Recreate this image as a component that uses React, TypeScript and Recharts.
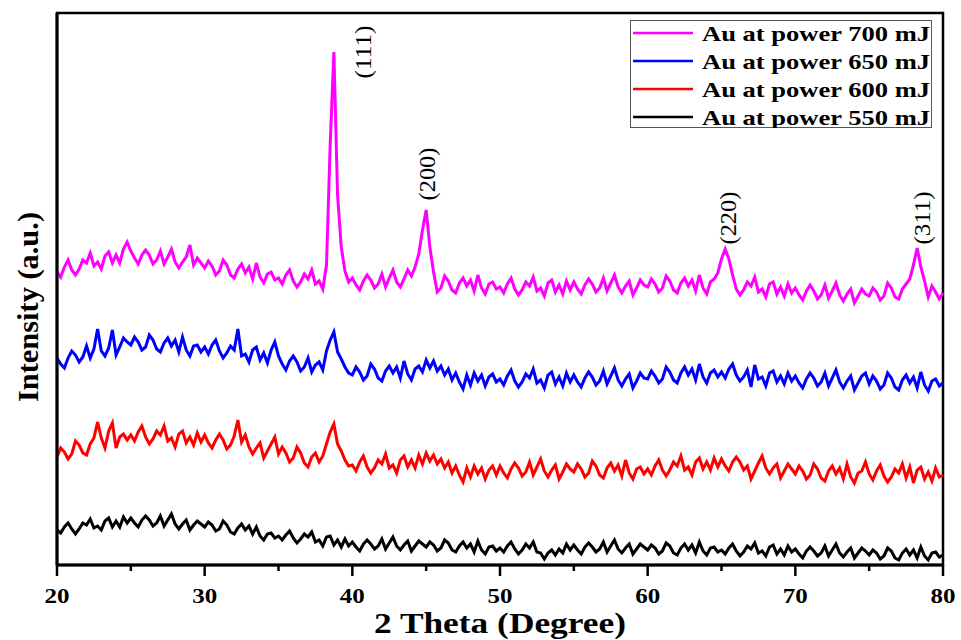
import { LineChart, Line, XAxis, YAxis, ReferenceArea, ReferenceDot, Legend } from 'recharts';

// scan grid: 20° to 80° in 0.25° steps (241 points)
const scanStart = 20;
const scanStep = 0.25;

const xTicks = [20, 25, 30, 35, 40, 45, 50, 55, 60, 65, 70, 75, 80];

// intensities (a.u.), curves stacked with offsets as in the figure
const power700 = [
  293, 288, 298, 305, 295, 290, 296, 305, 302, 312, 299, 303, 296, 309, 313, 302, 310, 302, 316, 323,
  314, 307, 301, 310, 315, 310, 301, 305, 314, 301, 308, 316, 303, 297, 303, 308, 320, 300, 307, 302,
  297, 304, 299, 290, 294, 305, 300, 290, 287, 296, 301, 292, 298, 286, 302, 288, 282, 291, 293, 285,
  287, 281, 290, 295, 284, 278, 283, 291, 286, 295, 281, 284, 276, 300, 420, 513, 370, 318, 294, 283,
  287, 280, 275, 284, 290, 285, 277, 281, 291, 278, 287, 295, 283, 278, 286, 295, 289, 298, 311, 335,
  355, 318, 293, 273, 277, 289, 284, 275, 272, 282, 287, 279, 285, 274, 290, 277, 271, 281, 283, 276,
  278, 272, 281, 287, 276, 270, 275, 283, 279, 288, 274, 277, 269, 282, 285, 273, 280, 271, 284, 275,
  283, 276, 271, 280, 286, 281, 273, 277, 287, 274, 282, 290, 278, 272, 279, 284, 270, 277, 285, 280,
  278, 286, 281, 273, 277, 289, 284, 275, 272, 282, 287, 279, 285, 274, 290, 277, 271, 283, 286, 292,
  306, 316, 306, 290, 276, 270, 275, 283, 279, 288, 273, 276, 268, 281, 283, 271, 278, 269, 281, 272,
  277, 270, 265, 274, 280, 274, 266, 270, 280, 267, 274, 282, 270, 264, 271, 276, 262, 269, 276, 271,
  269, 277, 273, 265, 269, 282, 277, 268, 266, 276, 281, 286, 300, 317, 298, 284, 268, 279, 273, 266,
  272,
];

const power650 = [
  207, 201, 197, 207, 214, 210, 203, 208, 219, 207, 216, 236, 214, 209, 217, 235, 210, 218, 227, 223,
  220, 228, 223, 215, 218, 230, 225, 216, 213, 222, 227, 219, 225, 213, 228, 215, 209, 219, 220, 213,
  218, 211, 220, 225, 214, 207, 212, 219, 215, 236, 209, 211, 203, 215, 218, 205, 212, 202, 215, 223,
  209, 201, 195, 204, 209, 203, 194, 198, 207, 193, 200, 203, 195, 214, 225, 233, 213, 206, 198, 192,
  190, 198, 193, 185, 189, 201, 196, 187, 184, 194, 199, 192, 198, 187, 204, 191, 185, 196, 199, 193,
  205, 197, 204, 194, 199, 190, 196, 185, 192, 183, 176, 190, 180, 192, 184, 190, 179, 188, 191, 183,
  186, 180, 189, 195, 184, 178, 183, 191, 187, 196, 182, 185, 177, 190, 193, 181, 188, 179, 192, 183,
  190, 183, 178, 187, 193, 188, 180, 184, 194, 181, 189, 197, 185, 179, 186, 191, 177, 184, 192, 187,
  186, 194, 189, 182, 186, 198, 193, 185, 182, 192, 198, 190, 196, 185, 201, 188, 182, 192, 195, 188,
  193, 187, 196, 201, 190, 184, 188, 195, 178, 200, 186, 188, 179, 192, 194, 183, 189, 181, 192, 184,
  189, 182, 177, 186, 192, 187, 179, 183, 192, 179, 187, 195, 183, 177, 184, 189, 175, 182, 189, 192,
  181, 189, 184, 176, 180, 192, 187, 178, 175, 185, 190, 182, 188, 177, 193, 180, 174, 184, 186, 179,
  182,
];

const power600 = [
  108, 117, 113, 106, 111, 124, 120, 112, 110, 121, 127, 143, 127, 117, 134, 142, 117, 128, 131, 125,
  130, 124, 133, 139, 128, 121, 126, 134, 130, 139, 124, 127, 118, 131, 134, 122, 128, 120, 132, 123,
  130, 122, 117, 125, 131, 125, 116, 120, 129, 145, 123, 130, 118, 111, 117, 122, 107, 114, 121, 128,
  111, 118, 112, 103, 107, 118, 112, 102, 98, 108, 112, 103, 109, 121, 133, 141, 121, 114, 105, 99,
  100, 94, 103, 109, 98, 92, 97, 105, 101, 111, 97, 100, 92, 105, 109, 98, 105, 97, 110, 101,
  112, 104, 110, 101, 106, 97, 103, 92, 99, 90, 83, 97, 88, 99, 91, 97, 86, 95, 99, 90,
  99, 92, 87, 96, 102, 97, 89, 93, 103, 90, 98, 106, 94, 88, 95, 100, 86, 93, 101, 96,
  93, 101, 96, 88, 92, 104, 99, 90, 87, 97, 102, 94, 100, 89, 105, 92, 86, 96, 98, 91,
  96, 90, 99, 105, 95, 89, 95, 103, 99, 109, 95, 98, 90, 103, 107, 96, 103, 95, 107, 98,
  106, 99, 94, 103, 108, 103, 95, 99, 86, 94, 102, 109, 97, 91, 97, 101, 87, 94, 101, 96,
  91, 99, 94, 86, 90, 101, 96, 87, 84, 94, 99, 91, 97, 86, 101, 88, 82, 92, 94, 103,
  91, 85, 94, 100, 89, 83, 88, 96, 92, 101, 87, 98, 82, 95, 98, 86, 93, 84, 97, 88,
  90,
];

const power550 = [
  35, 32, 38, 42, 36, 31, 36, 42, 40, 46, 37, 39, 35, 44, 47, 38, 44, 38, 48, 42,
  47, 42, 38, 45, 49, 45, 39, 42, 49, 39, 45, 51, 41, 36, 41, 45, 35, 40, 44, 41,
  38, 43, 40, 34, 36, 44, 40, 33, 31, 37, 41, 35, 39, 31, 38, 29, 25, 31, 32, 27,
  29, 25, 30, 34, 27, 22, 26, 31, 28, 33, 23, 25, 19, 28, 29, 20, 25, 18, 26, 19,
  23, 18, 14, 21, 25, 21, 16, 19, 26, 16, 22, 28, 19, 15, 20, 24, 14, 19, 24, 21,
  18, 23, 20, 14, 17, 25, 22, 15, 13, 19, 23, 17, 21, 13, 24, 15, 11, 18, 19, 14,
  17, 13, 19, 23, 16, 11, 15, 21, 17, 23, 13, 12, 6, 12, 15, 10, 16, 12, 21, 15,
  20, 15, 11, 18, 22, 18, 13, 16, 23, 13, 19, 25, 16, 12, 17, 21, 11, 16, 21, 18,
  15, 20, 17, 11, 14, 22, 19, 12, 10, 17, 21, 15, 20, 12, 23, 14, 10, 17, 18, 13,
  15, 11, 17, 21, 14, 9, 13, 19, 16, 22, 12, 14, 9, 18, 20, 11, 16, 10, 19, 13,
  16, 11, 7, 14, 18, 14, 9, 12, 19, 9, 15, 21, 12, 8, 13, 17, 7, 12, 17, 14,
  10, 15, 12, 6, 9, 17, 14, 7, 5, 12, 16, 10, 15, 7, 18, 9, 5, 12, 13, 8,
  10,
];

const seriesKeys = ['p700', 'p650', 'p600', 'p550'];
const seriesNames = ['Au at power 700 mJ', 'Au at power 650 mJ', 'Au at power 600 mJ', 'Au at power 550 mJ'];
const seriesColors = ['#ff00ff', '#0000ff', '#ff0000', '#000000'];

const peakLabels = ['(111)', '(200)', '(220)', '(311)'];
const peakLabelTheta = [40.7, 45.06, 65.44, 78.58];
const peakLabelIntensity = [513, 391, 347, 347];

const rows = power700.map((v, i) => ({
  theta: scanStart + i * scanStep,
  p700: v,
  p650: power650[i],
  p600: power600[i],
  p550: power550[i],
}));

const serif = 'Liberation Serif, Times New Roman, serif';

function ThetaTick(props: any) {
  const { x, y, payload } = props;
  const major = payload.value % 10 === 0;
  return (
    <g>
      <line x1={x} y1={y} x2={x} y2={y + (major ? 11 : 6)} stroke="#000" strokeWidth={2.5} />
      {major && (
        <text x={x} y={y + 38} textAnchor="middle" fontFamily={serif} fontWeight="bold" fontSize={21}
          textLength={25} lengthAdjust="spacingAndGlyphs">
          {payload.value}
        </text>
      )}
    </g>
  );
}

function XTitle(props: any) {
  const { viewBox } = props;
  const cx = viewBox.x + viewBox.width / 2;
  return (
    <text x={cx} y={viewBox.y + 68} textAnchor="middle" fontFamily={serif} fontWeight="bold" fontSize={29}
      textLength={252} lengthAdjust="spacingAndGlyphs">
      2 Theta (Degree)
    </text>
  );
}

function YTitle(props: any) {
  const { viewBox } = props;
  const cx = viewBox.x + 27;
  const cy = viewBox.y + viewBox.height / 2 + 18;
  return (
    <text x={cx} y={cy} transform={`rotate(-90 ${cx} ${cy})`} textAnchor="middle" dominantBaseline="central"
      fontFamily={serif} fontWeight="bold" fontSize={30} textLength={190} lengthAdjust="spacingAndGlyphs">
      Intensity (a.u.)
    </text>
  );
}

function PeakLabel(props: any) {
  const { viewBox, text } = props;
  const cx = viewBox.x + viewBox.width / 2;
  const cy = viewBox.y + viewBox.height / 2;
  return (
    <text x={cx} y={cy} transform={`rotate(-90 ${cx} ${cy})`} textAnchor="middle" dominantBaseline="central"
      fontFamily={serif} fontSize={24} textLength={53} lengthAdjust="spacingAndGlyphs">
      {text}
    </text>
  );
}

function LegendBox() {
  return (
    <svg width={302} height={108} style={{ display: 'block' }}>
      <rect x={0.5} y={0.5} width={301} height={107} fill="#fff" stroke="#555" strokeWidth={1} />
      {seriesNames.map((name, i) => {
        const cy = 13 + i * 28;
        return (
          <g key={name}>
            <line x1={3} x2={63} y1={cy} y2={cy} stroke={seriesColors[i]} strokeWidth={2.5} />
            <text x={72} y={cy} dominantBaseline="central" fontFamily={serif} fontWeight="bold" fontSize={22}
              textLength={228} lengthAdjust="spacingAndGlyphs">
              {name}
            </text>
          </g>
        );
      })}
    </svg>
  );
}

export default function App() {
  return (
    <div style={{ position: 'absolute', left: 0, top: 0, width: 961, height: 640, background: '#fff' }}>
      <LineChart width={961} height={640} data={rows} margin={{ top: 13, right: 18, left: 0, bottom: 0 }}>
        <ReferenceArea x1={20} x2={80} y1={0} y2={552} fill="none" stroke="#000" strokeWidth={2.5} ifOverflow="visible" />
        <XAxis
          dataKey="theta"
          type="number"
          domain={[20, 80]}
          ticks={xTicks}
          interval={0}
          height={75}
          tickSize={0}
          tickMargin={0}
          tickLine={false}
          axisLine={{ stroke: '#000', strokeWidth: 3 }}
          tick={<ThetaTick />}
          label={<XTitle />}
        />
        <YAxis
          type="number"
          domain={[0, 552]}
          width={57}
          tick={false}
          tickLine={false}
          axisLine={{ stroke: '#000', strokeWidth: 3 }}
          label={<YTitle />}
        />
        {seriesKeys.map((key, i) => (
          <Line
            key={key}
            type="linear"
            dataKey={key}
            name={seriesNames[i]}
            stroke={seriesColors[i]}
            strokeWidth={3}
            dot={false}
            isAnimationActive={false}
          />
        ))}
        {peakLabels.map((text, i) => (
          <ReferenceDot
            key={text}
            x={peakLabelTheta[i]}
            y={peakLabelIntensity[i]}
            r={1}
            fill="none"
            stroke="none"
            label={<PeakLabel text={text} />}
          />
        ))}
        <Legend
          layout="horizontal"
          verticalAlign="middle"
          align="center"
          content={<LegendBox />}
          wrapperStyle={{ position: 'absolute', left: 630, top: 20, width: 302, height: 108 }}
        />
      </LineChart>
    </div>
  );
}
